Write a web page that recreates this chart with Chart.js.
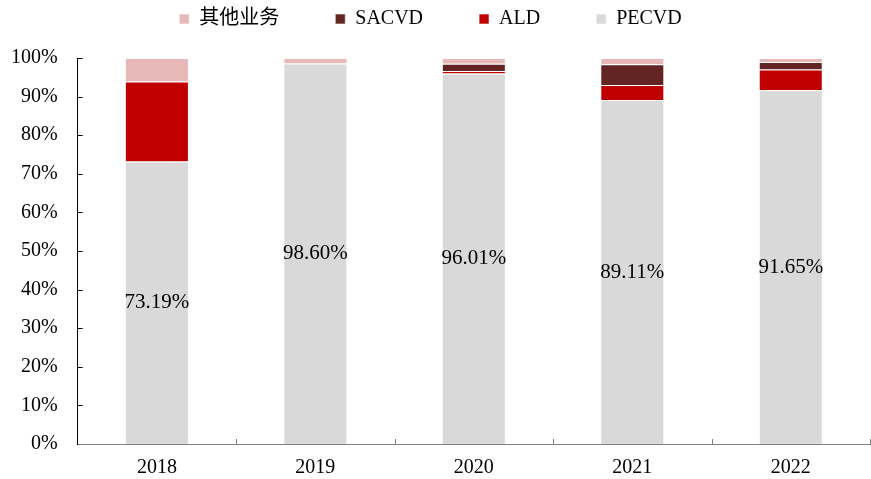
<!DOCTYPE html>
<html lang="zh">
<head>
    <meta charset="UTF-8">
    <script src="https://cdn.jsdelivr.net/npm/chart.js"></script>
    <title>chart</title>
    <style>
        html, body{
            margin:0;
            padding:0;
            background:#fff;
        }
        #chart_area{
            width:871px;
            height:479px;
        }
    </style>
</head>
<body>
    <div id="chart_area">
        <canvas id="mychart"></canvas>
    </div>
    <script>
        // 데이터
        let years  = ["2018","2019","2020","2021","2022"];
        let pecvd  = [73.19, 98.60, 96.01, 89.11, 91.65];
        let ald    = [20.7, 0, 0.6, 3.9, 5.4];
        let sacvd  = [0, 0, 1.9, 5.4, 1.9];
        let other  = [6.11, 1.40, 1.49, 1.59, 1.05];
        let yTicks = [0,10,20,30,40,50,60,70,80,90,100];

        const serif = "'Times New Roman', 'Liberation Serif', 'Noto Sans CJK SC', serif";

        // PECVD 막대 가운데 값 표시
        const valueLabels = {
            id: "valueLabels",
            afterDatasetsDraw(chart){
                const c = chart.ctx;
                const meta = chart.getDatasetMeta(0);
                c.save();
                c.font = "21px " + serif;
                c.fillStyle = "#000";
                c.textAlign = "center";
                c.textBaseline = "middle";
                meta.data.forEach((bar, i)=>{
                    const p = bar.getProps(["x","y","base"], true);
                    c.fillText(pecvd[i].toFixed(2) + "%", p.x, (p.y + p.base) / 2);
                });
                c.restore();
            }
        };

        // 안쪽으로 향하는 축 눈금
        const innerTicks = {
            id: "innerTicks",
            afterDraw(chart){
                const c = chart.ctx;
                const x = chart.scales.x, y = chart.scales.y;
                const area = chart.chartArea;
                c.save();
                c.lineWidth = 1;
                c.strokeStyle = "#808080";
                for(let i=0;i<years.length;i++){
                    const px = Math.round((x.getPixelForValue(i) + x.getPixelForValue(i+1)) / 2) + 0.5;
                    c.beginPath();
                    c.moveTo(px, area.bottom);
                    c.lineTo(px, area.bottom - 5);
                    c.stroke();
                }
                c.strokeStyle = "#000";
                yTicks.forEach(v=>{
                    if(v==0) return;
                    const py = Math.round(y.getPixelForValue(v)) + 0.5;
                    c.beginPath();
                    c.moveTo(area.left, py);
                    c.lineTo(area.left + 5, py);
                    c.stroke();
                });
                c.restore();
            }
        };

        // 범례 높이 조정
        const legendHeight = {
            id: "legendHeight",
            beforeLayout(chart){
                const lg = chart.legend;
                if(lg && !lg._patched){
                    const fit = lg.fit.bind(lg);
                    lg.fit = function(){ fit(); this.height = 105; };
                    lg._patched = true;
                }
            }
        };

        let ctx = document.querySelector("#mychart");
        let config = {
            type: "bar",
            data: {
                labels: years,
                datasets: [
                    { label: "PECVD",  data: pecvd, backgroundColor: "#D9D9D9" },
                    { label: "ALD",    data: ald,   backgroundColor: "#C00000" },
                    { label: "SACVD",  data: sacvd, backgroundColor: "#632523" },
                    { label: "其他业务", data: other, backgroundColor: "#E6B9B8" },
                ].map(d=>Object.assign(d, {
                    borderColor: "rgba(255,255,255,0.6)",
                    borderWidth: 1,
                    barPercentage: 0.808,
                    categoryPercentage: 0.5,
                }))
            },
            options: {
                responsive: true,
                maintainAspectRatio: false,
                animation: false,
                layout: { padding: { left: -9, right: 1, top: -47, bottom: -13 } },
                plugins: {
                    legend: {
                        position: "top",
                        reverse: true,
                        labels: {
                            boxWidth: 10,
                            boxHeight: 10,
                            padding: 56,
                            color: "#000",
                            font: { family: serif, size: 20 },
                        }
                    },
                    tooltip: { enabled: false }
                },
                scales: {
                    x: {
                        stacked: true,
                        border: { color: "#808080", width: 1 },
                        grid: { display: false, drawTicks: false },
                        ticks: {
                            color: "#000",
                            padding: 12,
                            font: { family: serif, size: 20 }
                        }
                    },
                    y: {
                        stacked: true,
                        min: 0,
                        max: 100,
                        afterBuildTicks: s => { s.ticks = yTicks.map(v=>({value:v})); },
                        border: { color: "#000", width: 1 },
                        grid: { display: false, drawTicks: false },
                        ticks: {
                            color: "#000",
                            padding: 20,
                            font: { family: serif, size: 20 },
                            callback: v => v + "%"
                        }
                    }
                }
            },
            plugins: [valueLabels, innerTicks, legendHeight]
        };
        let chart = new Chart(ctx, config);
    </script>
</body>
</html>
